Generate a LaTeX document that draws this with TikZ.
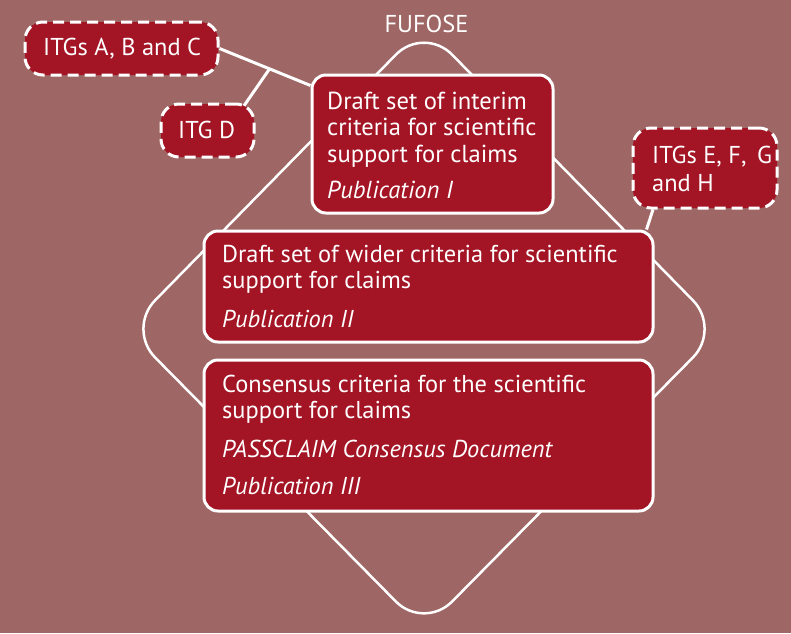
\documentclass[tikz,border=0pt]{standalone}
\usepackage{fontspec}
\setmainfont{PT Sans}
\usetikzlibrary{calc}
\pgfdeclarelayer{bg}
\pgfsetlayers{bg,main}
\definecolor{bgc}{RGB}{158,102,100}
\definecolor{boxred}{RGB}{163,20,36}
\tikzset{
  stagebox/.style={draw=white, line width=3pt, fill=boxred, rounded corners=14pt, inner sep=0pt},
  itgbox/.style={draw=white, line width=3pt, fill=boxred, rounded corners=18pt, inner sep=0pt, dash pattern=on 11pt off 6pt},
  txt/.style={text=white, anchor=base west, inner sep=0pt, font=\fontsize{24.4}{26}\selectfont},
  txtone/.style={txt, font=\fontsize{24.6}{26}\selectfont},
  itgtxt/.style={txt, font=\fontsize{24.4}{28}\selectfont},
  link/.style={draw=white, line width=3pt},
  ring/.style={draw=white, line width=2.5pt, rounded corners=40pt}
}
\begin{document}
\begin{tikzpicture}[x=1pt, y=-1pt]
\useasboundingbox (0,0) rectangle (791,633);
% boxes
\node[stagebox, minimum width=241pt, minimum height=138pt] (b1) at (432.5,144) {};
\node[stagebox, minimum width=449pt, minimum height=111pt] (b2) at (428.5,286.5) {};
\node[stagebox, minimum width=449pt, minimum height=151pt] (b3) at (428.5,435.5) {};
\node[itgbox, minimum width=193pt, minimum height=53pt] (abc) at (121.5,48.5) {};
\node[itgbox, minimum width=93pt, minimum height=53pt] (itgd) at (207.5,130.5) {};
\node[itgbox, minimum width=144pt, minimum height=80pt] (efgh) at (705,168) {};
% texts
\node[txt, anchor=base, font=\fontsize{24.4}{26}\selectfont] (fufose) at (426.5,32) {FUFOSE};
\node[txtone] (t1a) at (327,109) {Draft set of interim};
\node[txtone] (t1b) at (327,135) {criteria for scientific};
\node[txtone] (t1c) at (327,162) {support for claims};
\node[txtone] (t1d) at (327,198) {\itshape Publication I};
\node[txt] (t2a) at (222,262) {Draft set of wider criteria for scientific};
\node[txt] (t2b) at (222,288) {support for claims};
\node[txt] (t2c) at (222,327) {\itshape Publication II};
\node[txt] (t3a) at (222,392) {Consensus criteria for the scientific};
\node[txt] (t3b) at (222,418) {support for claims};
\node[txt] (t3c) at (222,457) {\itshape PASSCLAIM Consensus Document};
\node[txt] (t3d) at (222,494) {\itshape Publication III};
\node[itgtxt] (tabc) at (43,55) {ITGs A, B and C};
\node[itgtxt] (td) at (178,138) {ITG D};
\node[itgtxt] (tefa) at (652,163) {ITGs E, F,\, G};
\node[itgtxt] (tefb) at (652,191) {and H};
% background layer
\coordinate (p1) at ([yshift=-12pt]b1.north west);
\coordinate (jn) at ($(abc.east)!0.55!(p1)$);
\begin{pgfonlayer}{bg}
\fill[bgc] (0,0) rectangle (791,633);
\path[ring] (275.5,177.5) -- (424,26) -- (721,329) -- (424,630) -- (127,329) -- cycle;
\draw[link] (abc.east) -- (p1);
\draw[link] (jn) -- ([xshift=-12pt,yshift=-4pt]itgd.north east);
\draw[link] ([xshift=-52pt]efgh.south) -- ([xshift=-8pt]b2.north east);
\end{pgfonlayer}
\end{tikzpicture}
\end{document}
